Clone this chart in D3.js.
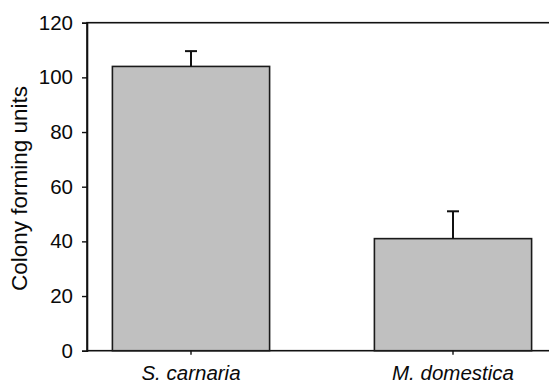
<!DOCTYPE html>
<html>
<head>
<meta charset="utf-8">
<script src="https://cdn.jsdelivr.net/npm/d3@7"></script>
<style>
  html, body { margin: 0; padding: 0; background: #fff; }
  svg { display: block; font-family: "Liberation Sans", Arial, sans-serif; }
</style>
</head>
<body>
<svg id="chart" width="549" height="390"></svg>
<script>
// Colony counts per host species, with upper error (SE)
const categories = ["S. carnaria", "M. domestica"];
const means = [104, 41];
const errors = [5.6, 10];
const yTicks = [0, 20, 40, 60, 80, 100, 120];

const svg = d3.select("#chart");
const plotLeft = 87, plotTop = 22.7, plotBottom = 350.7, plotRight = 551;

const y = d3.scaleLinear().domain([0, 120]).range([plotBottom, plotTop]);
const x = d3.scaleBand().domain(categories).range([60, 584])
  .paddingInner(0.4).paddingOuter(0.2);

// frame
svg.append("rect")
  .attr("x", plotLeft).attr("y", plotTop)
  .attr("width", plotRight - plotLeft).attr("height", plotBottom - plotTop)
  .attr("fill", "none").attr("stroke", "#111").attr("stroke-width", 1.6);

// bars
svg.append("g").selectAll("rect").data(categories).join("rect")
  .attr("x", d => x(d))
  .attr("y", (d, i) => y(means[i]))
  .attr("width", x.bandwidth())
  .attr("height", (d, i) => y(0) - y(means[i]))
  .attr("fill", "#c0c0c0")
  .attr("stroke", "#1a1a1a").attr("stroke-width", 1.6);

// error bars (upper only)
const eb = svg.append("g").attr("stroke", "#111").attr("stroke-width", 2);
categories.forEach((c, i) => {
  const cx = x(c) + x.bandwidth() / 2;
  eb.append("line").attr("x1", cx).attr("x2", cx)
    .attr("y1", y(means[i])).attr("y2", y(means[i] + errors[i]));
  eb.append("line").attr("x1", cx - 6).attr("x2", cx + 6)
    .attr("y1", y(means[i] + errors[i])).attr("y2", y(means[i] + errors[i]));
});

// y axis
const yAxis = svg.append("g").attr("transform", `translate(${plotLeft},0)`)
  .call(d3.axisLeft(y).tickValues(yTicks).tickSize(5).tickPadding(9));
yAxis.select(".domain").attr("stroke", "#111").attr("stroke-width", 1.6);
yAxis.selectAll(".tick line").attr("stroke", "#111").attr("stroke-width", 1.4);
yAxis.selectAll(".tick text").attr("font-size", 20.5).attr("fill", "#0a0a0a")
  .attr("font-family", "Liberation Sans, Arial, sans-serif");

// x axis
const xAxis = svg.append("g").attr("transform", `translate(0,${plotBottom})`)
  .call(d3.axisBottom(x).tickSize(4).tickPadding(11));
xAxis.select(".domain").remove();
xAxis.selectAll(".tick line").attr("stroke", "#111").attr("stroke-width", 1.4);
xAxis.selectAll(".tick text").attr("font-size", 20.5).attr("font-style", "italic")
  .attr("fill", "#0a0a0a").attr("font-family", "Liberation Sans, Arial, sans-serif");

// y title
svg.append("text")
  .attr("transform", `translate(26.5,${(80 + 297) / 2}) rotate(-90)`)
  .attr("text-anchor", "middle")
  .attr("font-size", 22.5).attr("fill", "#0a0a0a")
  .text("Colony forming units");
</script>
</body>
</html>
